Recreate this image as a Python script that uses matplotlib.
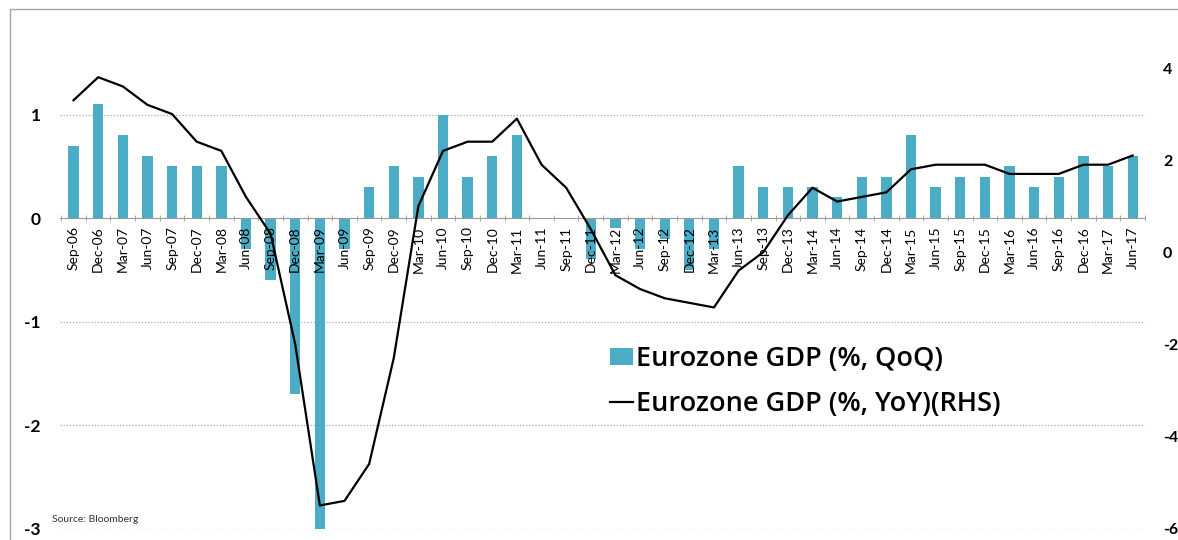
import matplotlib.pyplot as plt
from matplotlib.patches import Rectangle

plt.rcParams['font.family'] = ['Lato', 'DejaVu Sans']

quarters = ['Sep-06', 'Dec-06', 'Mar-07', 'Jun-07', 'Sep-07', 'Dec-07', 'Mar-08', 'Jun-08',
            'Sep-08', 'Dec-08', 'Mar-09', 'Jun-09', 'Sep-09', 'Dec-09', 'Mar-10', 'Jun-10',
            'Sep-10', 'Dec-10', 'Mar-11', 'Jun-11', 'Sep-11', 'Dec-11', 'Mar-12', 'Jun-12',
            'Sep-12', 'Dec-12', 'Mar-13', 'Jun-13', 'Sep-13', 'Dec-13', 'Mar-14', 'Jun-14',
            'Sep-14', 'Dec-14', 'Mar-15', 'Jun-15', 'Sep-15', 'Dec-15', 'Mar-16', 'Jun-16',
            'Sep-16', 'Dec-16', 'Mar-17', 'Jun-17']

# quarter on quarter growth, left axis
gdp_qoq = [0.7, 1.1, 0.8, 0.6, 0.5, 0.5, 0.5, -0.3,
           -0.6, -1.7, -3.0, -0.3, 0.3, 0.5, 0.4, 1.0,
           0.4, 0.6, 0.8, 0.0, 0.0, -0.4, -0.1, -0.3,
           -0.2, -0.5, -0.3, 0.5, 0.3, 0.3, 0.3, 0.2,
           0.4, 0.4, 0.8, 0.3, 0.4, 0.4, 0.5, 0.3,
           0.4, 0.6, 0.5, 0.6]

# year on year growth, right axis
gdp_yoy = [3.3, 3.8, 3.6, 3.2, 3.0, 2.4, 2.2, 1.2,
           0.4, -2.0, -5.5, -5.4, -4.6, -2.3, 1.0, 2.2,
           2.4, 2.4, 2.9, 1.9, 1.4, 0.5, -0.5, -0.8,
           -1.0, -1.1, -1.2, -0.4, 0.0, 0.8, 1.4, 1.1,
           1.2, 1.3, 1.8, 1.9, 1.9, 1.9, 1.7, 1.7,
           1.7, 1.9, 1.9, 2.1]

left_ticks = [-3, -2, -1, 0, 1]
right_ticks = [-6, -4, -2, 0, 2, 4]

W, H = 1178, 540
fig = plt.figure(figsize=(W / 100, H / 100), dpi=100)
ax = fig.add_axes([60 / W, (H - 528.5) / H, (1145 - 60) / W, (528.5 - 68) / H])
ax2 = ax.twinx()

# dotted gridlines behind the bars, tick labels drawn over the bars
for t in left_ticks:
    if t != 0:
        ax.axhline(t, color='#8fb8c8', linestyle=(0, (1, 1.5)), linewidth=0.9, zorder=1)

x = list(range(len(quarters)))
ax.bar(x, gdp_qoq, width=0.42, color='#4BACC6', label='Eurozone GDP (%, QoQ)', zorder=2)
ax2.plot(x, gdp_yoy, color='black', linewidth=1.6, label='Eurozone GDP (%, YoY)(RHS)')

ax.set_xlim(-0.55, 43.5)
ax.set_ylim(-3, 1.45)
ax2.set_ylim(-6, 4)

ax.set_yticks(left_ticks)
ax.set_yticklabels([str(t) for t in left_ticks], fontweight='bold', fontsize=12.5)
ax.tick_params(axis='y', length=0, pad=14)
ax2.set_yticks(right_ticks)
ax2.set_yticklabels([str(t) for t in right_ticks], fontweight='bold', fontsize=11.5)
ax2.tick_params(axis='y', length=0, pad=13)

ax.set_xticks(x)
ax.set_xticklabels(quarters, fontsize=10)
ax.set_xticks([k - 0.5 for k in range(len(quarters) + 1)], minor=True)
ax.tick_params(axis='x', which='major', length=0, pad=6, labelrotation=90)
ax.tick_params(axis='x', which='minor', length=5, direction='inout', color='#9a9a9a')
ax.set_axisbelow(False)

for s in ['top', 'left', 'right']:
    ax.spines[s].set_visible(False)
    ax2.spines[s].set_visible(False)
ax2.spines['bottom'].set_visible(False)
ax.spines['bottom'].set_position(('data', 0))
ax.spines['bottom'].set_color('#9a9a9a')
ax.spines['bottom'].set_zorder(3)

h1, l1 = ax.get_legend_handles_labels()
h2, l2 = ax2.get_legend_handles_labels()
fig.legend(h1 + h2, l1 + l2, loc='upper left', bbox_to_anchor=(610 / W, (H - 345) / H),
           frameon=False, prop={'family': 'Open Sans', 'size': 19.5, 'weight': 'semibold'},
           handlelength=0.85, handleheight=0.6, handletextpad=0.1, labelspacing=0.62,
           borderpad=0, borderaxespad=0)

fig.text(52 / W, (H - 520) / H, 'Source: Bloomberg', fontsize=7.5, color='#333333', va='center')

fig.patches.append(Rectangle((10 / W, -0.05), 1.1, (H - 9) / H + 0.05, transform=fig.transFigure,
                             fill=False, edgecolor='#a6a6a6', linewidth=1))

fig.savefig('out.png', dpi=100)
